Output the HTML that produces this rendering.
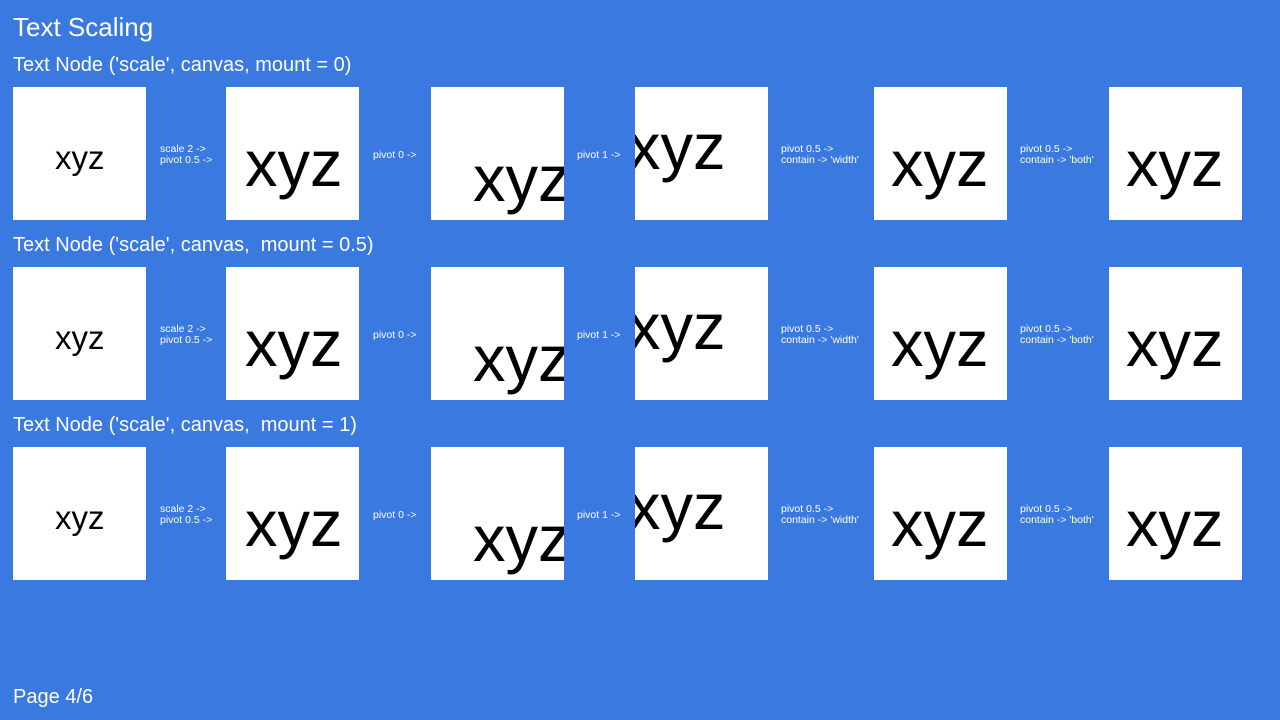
<!DOCTYPE html>
<html><head><meta charset="utf-8"><style>
html,body{margin:0;padding:0}
body{width:1280px;height:720px;background:#3979e0;position:relative;overflow:hidden;font-family:"Liberation Sans",sans-serif;color:#fff}
.t{position:absolute;white-space:nowrap}
.box{position:absolute;width:133px;height:133px;background:#fff;overflow:hidden}
.box span{position:absolute;color:#000;white-space:nowrap;line-height:1}
.lbl{position:absolute;font-size:10.5px;line-height:11px;white-space:nowrap;color:#fff}
</style></head><body>
<div class="t" style="left:13px;top:12px;font-size:26px">Text Scaling</div>
<div id="rows"></div>
<div class="t" style="left:13px;top:686px;font-size:20px">Page 4/6</div>
<script>
const rowTitles=["Text Node ('scale', canvas, mount = 0)","Text Node ('scale', canvas,  mount = 0.5)","Text Node ('scale', canvas,  mount = 1)"];
const boxX=[13,226,431,635,874,1109];
const textLeft=[55,245,473,628,891,1126];
const baseOff=[84,102,117,85,102,102];
const sizes=[33,65,65,65,65,65];
const labels=[["scale 2 ->","pivot 0.5 ->"],["pivot 0 ->"],["pivot 1 ->"],["pivot 0.5 ->","contain -> 'width'"],["pivot 0.5 ->","contain -> 'both'"]];
const labelX=[160,373,577,781,1020];
const root=document.getElementById('rows');
rowTitles.forEach((title,r)=>{
  const y0=87+r*180;
  const h=document.createElement('div');
  h.className='t';
  h.style.cssText=`left:13px;top:${y0-33}px;font-size:20px;white-space:pre`;
  h.textContent=title;
  
  
  root.appendChild(h);
  boxX.forEach((x,i)=>{
    const b=document.createElement('div');
    b.className='box';
    b.style.left=x+'px';b.style.top=y0+'px';
    
    
    const s=document.createElement('span');
    s.textContent='xyz';
    s.style.fontSize=sizes[i]+'px';
    s.style.left=(textLeft[i]-x)+'px';
    s.style.top=(baseOff[i]-sizes[i]*0.9)+'px';
    
    
    b.appendChild(s);
    root.appendChild(b);
  });
  labels.forEach((l,i)=>{
    const d=document.createElement('div');
    d.className='lbl';
    d.innerHTML=l.join('<br>');
    d.style.left=labelX[i]+'px';
    d.style.top=(y0+(l.length===2?57:63))+'px';
    
    
    root.appendChild(d);
  });
});
</script>
</body></html>
